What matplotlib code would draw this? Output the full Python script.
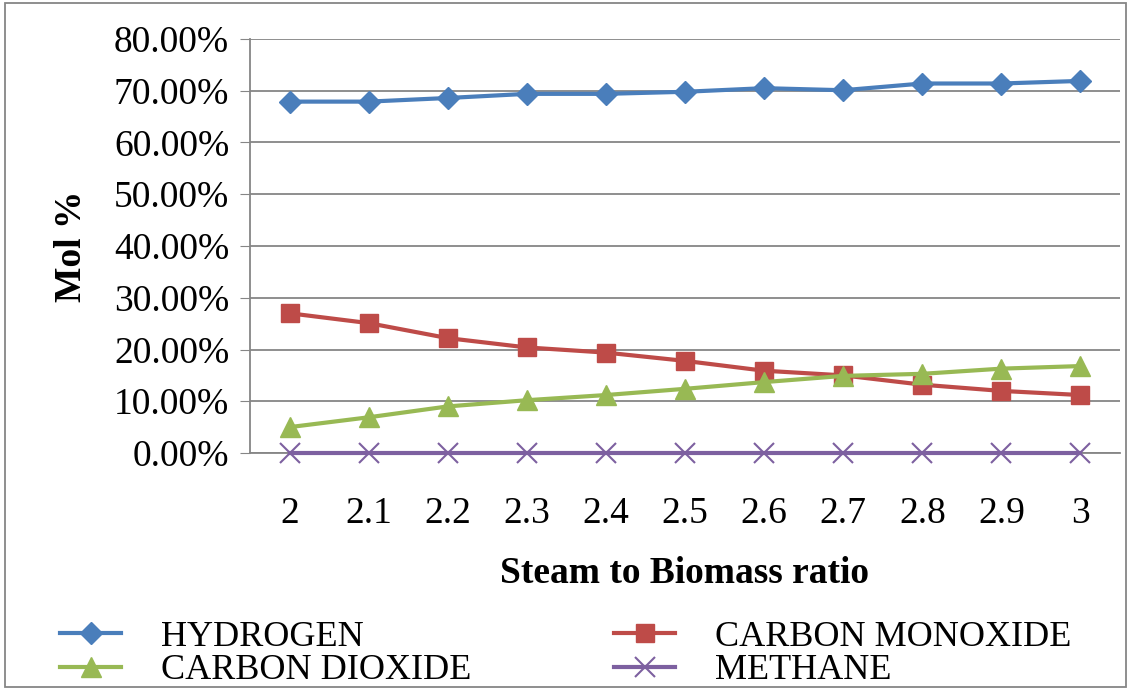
import matplotlib.pyplot as plt
import numpy as np
from matplotlib.patches import Rectangle

ratios = ["2", "2.1", "2.2", "2.3", "2.4", "2.5", "2.6", "2.7", "2.8", "2.9", "3"]
hydrogen = [67.9, 67.9, 68.6, 69.4, 69.4, 69.8, 70.5, 70.1, 71.4, 71.4, 71.9]
carbon_monoxide = [27.0, 25.1, 22.2, 20.4, 19.4, 17.8, 15.9, 15.0, 13.2, 12.0, 11.2]
carbon_dioxide = [5.0, 6.9, 9.0, 10.2, 11.2, 12.4, 13.7, 14.9, 15.3, 16.3, 16.8]
methane = [0, 0, 0, 0, 0, 0, 0, 0, 0, 0, 0]

plt.rcParams["font.family"] = ["Liberation Serif", "DejaVu Serif"]

fig = plt.figure(figsize=(11.31, 6.90), dpi=100)
ax = fig.add_axes([250 / 1131, 1 - 453 / 690, 870 / 1131, 414 / 690])

x = np.arange(len(ratios))
lw = 3
h1, = ax.plot(x, hydrogen, color="#4a7ebb", lw=lw, marker="D", ms=11, label="HYDROGEN")
h2, = ax.plot(x, carbon_monoxide, color="#be4b48", lw=lw, marker="s", ms=13, label="CARBON MONOXIDE")
h3, = ax.plot(x, carbon_dioxide, color="#98b954", lw=lw, marker="^", ms=14, label="CARBON DIOXIDE")
h4, = ax.plot(x, methane, color="#7d60a0", lw=lw, marker="x", ms=15, mew=1.5,
              label="METHANE", clip_on=False, zorder=5)

ax.set_xlim(-0.5, len(ratios) - 0.5)
ax.set_ylim(0, 80)
ax.set_yticks(np.arange(0, 81, 10))
ax.set_yticklabels([f"{v:.2f}%" for v in np.arange(0, 81, 10)])
ax.set_xticks(x)
ax.set_xticklabels(ratios)
ax.tick_params(axis="y", labelsize=27, length=7, color="#868686", pad=8)
ax.tick_params(axis="x", labelsize=27, length=0, pad=31)
ax.grid(axis="y", color="#868686", lw=1.3)
ax.set_axisbelow(True)
for s in ["top", "right"]:
    ax.spines[s].set_visible(False)
for s in ["left", "bottom"]:
    ax.spines[s].set_color("#868686")
    ax.spines[s].set_linewidth(1.3)

ax.set_ylabel("Mol %", fontsize=27, fontweight="bold", labelpad=18)
ax.set_xlabel("Steam to Biomass ratio", fontsize=27, fontweight="bold", labelpad=18)

fig.legend([h1, h3, h2, h4], ["HYDROGEN", "CARBON DIOXIDE", "CARBON MONOXIDE", "METHANE"],
           ncol=2, loc="lower left", bbox_to_anchor=(0.053, 0.004), frameon=False,
           borderpad=0, borderaxespad=0,
           fontsize=26, handlelength=1.7, columnspacing=3.95, labelspacing=0.0,
           handletextpad=1.1)

fig.patches.append(Rectangle((0.004, 0.004), 0.992, 0.992, transform=fig.transFigure,
                             fill=False, edgecolor="#868686", lw=1.3))

fig.savefig("out.png", dpi=100)
